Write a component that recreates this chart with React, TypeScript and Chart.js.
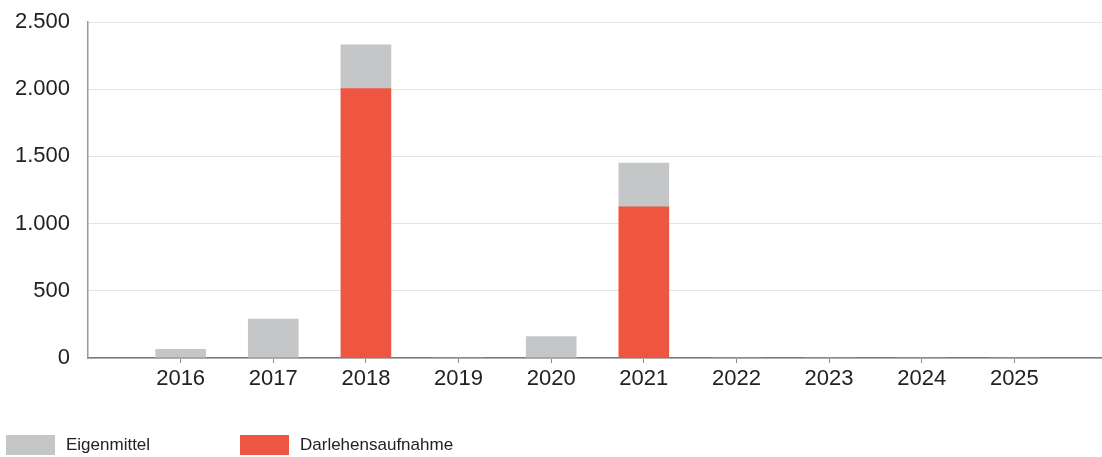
import React, { useEffect, useRef } from "react";
import { Chart, registerables } from "chart.js";

Chart.register(...registerables);

const years = ["", "2016", "2017", "2018", "2019", "2020", "2021", "2022", "2023", "2024", "2025", ""];
const eigenmittel = [null, 65, 290, 325, 0, 160, 325, 0, 0, 0, 0, null];
const darlehensaufnahme = [null, 0, 0, 2005, 0, 0, 1125, 0, 0, 0, 0, null];
const yTicks = [0, 500, 1000, 1500, 2000, 2500];
const legendOrder = ["Eigenmittel", "Darlehensaufnahme"];

const GREY = "#c4c6c7";
const RED = "#ee5641";
const FONT = "'Liberation Sans', Arial, sans-serif";

function fmt(v: number): string {
  return String(Math.round(v)).replace(/\B(?=(\d{3})+(?!\d))/g, ".");
}

const legendPlugin = {
  id: "customLegend",
  afterDraw(chart: any) {
    const ctx = chart.ctx;
    ctx.save();
    legendOrder.forEach((name, i) => {
      const ds = chart.data.datasets.find((d: any) => d.label === name);
      if (!ds) return;
      const x = 6 + i * 234;
      const y = 435;
      ctx.fillStyle = ds.backgroundColor;
      ctx.fillRect(x, y, 49, 20);
      ctx.fillStyle = "#222";
      ctx.font = `17px ${FONT}`;
      ctx.textBaseline = "middle";
      ctx.textAlign = "left";
      ctx.fillText(name, x + 60, y + 10);
    });
    ctx.restore();
  },
};

export default function App() {
  const ref = useRef<HTMLCanvasElement | null>(null);

  useEffect(() => {
    if (!ref.current) return;
    const chart = new Chart(ref.current, {
      type: "bar",
      data: {
        labels: years,
        datasets: [
          {
            label: "Darlehensaufnahme",
            data: darlehensaufnahme as any,
            backgroundColor: RED,
            barThickness: 50,
            stack: "s",
          },
          {
            label: "Eigenmittel",
            data: eigenmittel as any,
            backgroundColor: GREY,
            barThickness: 50,
            stack: "s",
          },
        ],
      },
      options: {
        animation: false,
        responsive: false,
        devicePixelRatio: 1,
        layout: { padding: { left: 0, top: 22, right: 1, bottom: 59 } },
        plugins: {
          legend: { display: false },
          tooltip: { enabled: false },
        },
        scales: {
          x: {
            type: "category",
            offset: false,
            stacked: true,
            grid: {
              display: true,
              offset: false,
              drawOnChartArea: false,
              drawTicks: true,
              tickLength: 5,
              color: "#8a8a8a",
              tickColor: (c: any) => (years[c.index] === "" ? "rgba(0,0,0,0)" : "#8a8a8a"),
            },
            border: { display: true, color: "#7a7a7a", width: 1.5 },
            ticks: {
              color: "#222",
              font: { family: FONT, size: 22 },
              padding: 3,
              maxRotation: 0,
              autoSkip: false,
            },
            afterFit: (s: any) => {
              s.height = 40;
            },
          },
          y: {
            stacked: true,
            min: 0,
            max: 2500,
            afterBuildTicks: (s: any) => {
              s.ticks = yTicks.map((v) => ({ value: v }));
            },
            grid: {
              color: "#e4e4e4",
              lineWidth: 1,
              drawTicks: true,
              tickLength: 18,
              tickColor: "rgba(0,0,0,0)",
            },
            border: { display: true, color: "#9a9a9a", width: 1.5 },
            ticks: {
              color: "#222",
              font: { family: FONT, size: 22 },
              padding: 0,
              callback: (v: any) => fmt(Number(v)),
            },
            afterFit: (s: any) => {
              s.width = 88;
            },
          },
        },
      },
      plugins: [legendPlugin],
    });
    return () => chart.destroy();
  }, []);

  return (
    <div
      style={{
        position: "fixed",
        left: 0,
        top: 0,
        width: 1102,
        height: 457,
        overflow: "hidden",
        background: "#fff",
      }}
    >
      <canvas ref={ref} width={1110} height={457} style={{ display: "block" }} />
    </div>
  );
}
